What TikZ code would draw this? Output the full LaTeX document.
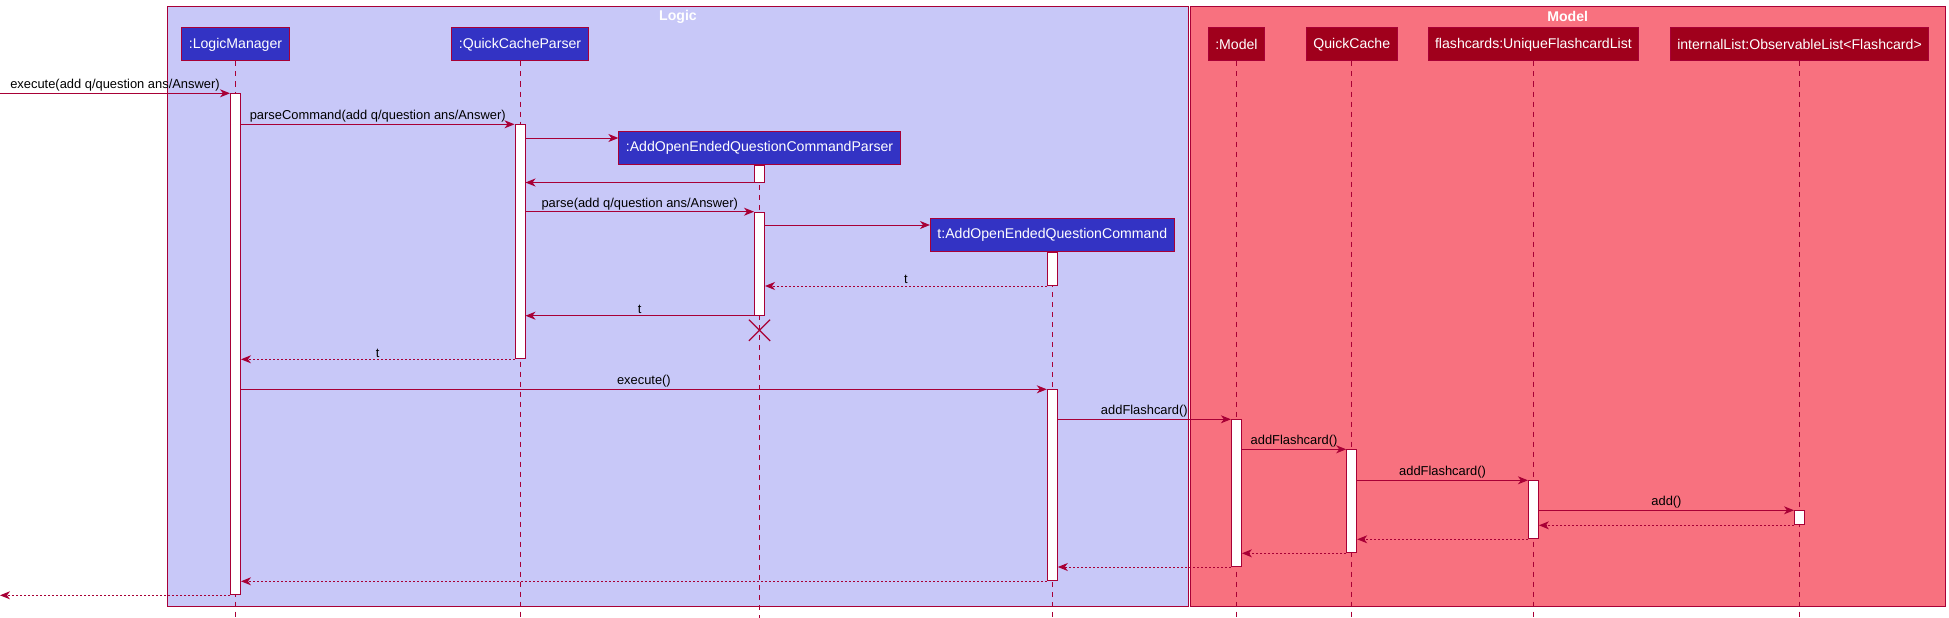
\documentclass[tikz,border=0pt]{standalone}
\usepackage{fontspec}
\setmainfont{Liberation Sans}
\usetikzlibrary{arrows.meta,positioning,shapes.misc}
\definecolor{crimson}{HTML}{A80036}
\definecolor{logicbg}{HTML}{C8C8F8}
\definecolor{modelbg}{HTML}{F8717F}
\definecolor{partblue}{HTML}{3333C4}
\definecolor{partred}{HTML}{A0001C}
\tikzset{
  >={Stealth[length=10pt,width=8pt,inset=3pt]},
  msg/.style={->,line width=1pt,draw=crimson},
  ret/.style={msg,dash pattern=on 2pt off 2pt},
  life/.style={draw=crimson,line width=0.8pt,dash pattern=on 5pt off 5pt},
  bluepart/.style={draw=crimson,line width=1pt,fill=partblue,text=white,
    minimum height=33pt,inner xsep=7pt,font=\fontsize{14.1}{17}\selectfont},
  redpart/.style={bluepart,fill=partred},
  act/.style={draw=crimson,line width=1pt,fill=white,minimum width=10pt,
    inner sep=0pt,anchor=north},
  lbl/.style={font=\fontsize{12.9}{15}\selectfont,inner sep=1.5pt,above,midway,text=black},
  pkgbox/.style={draw=crimson,line width=1pt},
  pkgtitle/.style={text=white,font=\fontsize{14.1}{17}\selectfont\bfseries},
  kill/.style={cross out,draw=crimson,line width=1.2pt,minimum size=20pt,inner sep=0pt}
}
\begin{document}
\begin{tikzpicture}[x=1pt,y=-1pt]
  \useasboundingbox (0,0) rectangle (1949,618);
  \draw[pkgbox,fill=logicbg] (167.5,6.3) rectangle (1188.7,606);
  \draw[pkgbox,fill=modelbg] (1190.4,6.3) rectangle (1945,606.7);
  \node[pkgtitle] (logicT) at (678,16.7) {Logic};
  \node[pkgtitle] (modelT) at (1567.7,16.7) {Model};

  \node[bluepart] (lm) at (235.5,44.5) {:LogicManager};
  \node[bluepart] (qp) at (520,44.5) {:QuickCacheParser};
  \node[bluepart] (pa) at (759.5,148) {:AddOpenEndedQuestionCommandParser};
  \node[bluepart] (cm) at (1052.3,235) {t:AddOpenEndedQuestionCommand};
  \node[redpart] (mo) at (1236.4,44.5) {:Model};
  \node[redpart] (qc) at (1351.7,44.5) {QuickCache};
  \node[redpart] (fl) at (1533.4,44.5) {flashcards:UniqueFlashcardList};
  \node[redpart] (il) at (1799.5,44.5) {internalList:ObservableList<Flashcard>};

  \coordinate (bot) at (0,618);
  \coordinate (src) at (0,93.3);
  \foreach \p in {lm,qp,pa,cm,mo,qc,fl,il} \draw[life] (\p.south) -- (\p.south |- bot);

  \node[act,minimum height=501pt] (lmA) at (lm |- 0,93.3) {};
  \node[act,minimum height=234pt] (qpA) at (qp |- 0,124.3) {};
  \node[act,minimum height=16.5pt,below=0pt of pa] (paA1) {};
  \node[act,minimum height=103pt] (paA2) at (pa |- 0,211.7) {};
  \node[act,minimum height=33pt,below=0pt of cm] (cmA1) {};
  \node[act,minimum height=191pt] (cmA2) at (cm |- 0,389.3) {};
  \node[act,minimum height=146.7pt] (moA) at (mo |- 0,419.3) {};
  \node[act,minimum height=103pt] (qcA) at (qc |- 0,449.3) {};
  \node[act,minimum height=58pt] (flA) at (fl |- 0,480.3) {};
  \node[act,minimum height=14pt] (ilA) at (il |- 0,510.3) {};
  \node[kill,below=4pt of paA2] (paX) {};

  \path ([yshift=10pt]pa.west) coordinate (paIn) ([yshift=10pt]cm.west) coordinate (cmIn);

  \draw[msg] (src) -- node[lbl]{execute(add q/question ans/Answer)} (lmA.north west);
  \draw[msg] (lmA.east |- qpA.north) -- node[lbl]{parseCommand(add q/question ans/Answer)} (qpA.north west);
  \draw[msg] (qpA.east |- paIn) -- (paIn);
  \draw[msg] (paA1.south west) -- (qpA.east |- paA1.south);
  \draw[msg] (qpA.east |- paA2.north) -- node[lbl]{parse(add q/question ans/Answer)} (paA2.north west);
  \draw[msg] (paA2.east |- cmIn) -- (cmIn);
  \draw[ret] (cmA1.south west) -- node[lbl]{t} (paA2.east |- cmA1.south);
  \draw[msg] (paA2.south west) -- node[lbl]{t} (qpA.east |- paA2.south);
  \draw[ret] (qpA.south west) -- node[lbl]{t} (lmA.east |- qpA.south);
  \draw[msg] (lmA.east |- cmA2.north) -- node[lbl]{execute()} (cmA2.north west);
  \foreach \a/\b in {cmA2/moA,moA/qcA,qcA/flA}
    \draw[msg] (\a.east |- \b.north) -- node[lbl]{addFlashcard()} (\b.north west);
  \draw[msg] (flA.east |- ilA.north) -- node[lbl]{add()} (ilA.north west);
  \foreach \a/\b in {ilA/flA,flA/qcA,qcA/moA,moA/cmA2,cmA2/lmA}
    \draw[ret] (\a.south west) -- (\b.east |- \a.south);
  \draw[ret] (lmA.south west) -- (src |- lmA.south);
\end{tikzpicture}
\end{document}
